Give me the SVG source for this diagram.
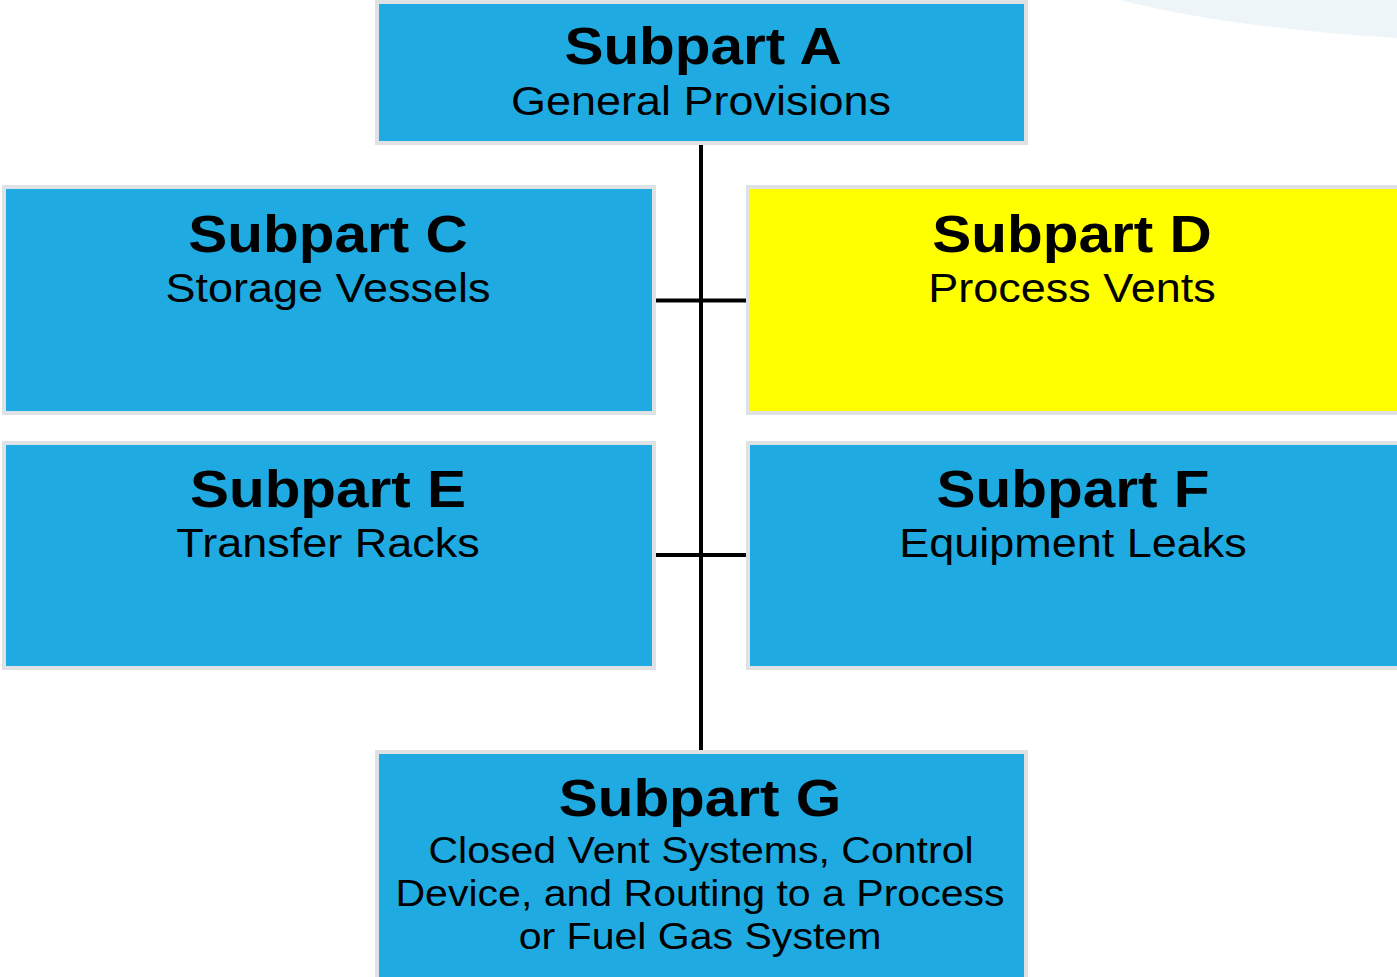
<svg xmlns="http://www.w3.org/2000/svg" width="1397" height="977" viewBox="0 0 1397 977">
  <style>
    .box { fill: #1fabe2; stroke: #dfe2e5; stroke-width: 4; }
    .hl { fill: #ffff00; }
    text { font-family: "Liberation Sans", Arial, sans-serif; fill: #000; text-anchor: middle; }
    .title { font-weight: bold; font-size: 52px; }
    .sub { font-size: 40px; }
    .sub-g { font-size: 36.5px; }
    .wire { stroke: #000; stroke-width: 4; fill: none; }
  </style>
  <rect width="1397" height="977" fill="#fff"/>
  <!-- soft background swoosh at top right -->
  <path d="M1120,0 Q1230,28 1397,38 L1397,0 Z" fill="#edf5f9"/>

  <g id="connectors">
    <line class="wire" x1="701" y1="145" x2="701" y2="750"/>
    <line class="wire" x1="656" y1="300.5" x2="746" y2="300.5"/>
    <line class="wire" x1="656" y1="555" x2="746" y2="555"/>
  </g>

  <!-- labels use a slightly widened face (horizontal scale 1.125) -->
  <g id="subpart-a">
    <rect class="box" x="377" y="2" width="649" height="141"/>
    <text class="title" transform="matrix(1.125 0 0 1 703 64)">Subpart A</text>
    <text class="sub" transform="matrix(1.125 0 0 1 701 115)">General Provisions</text>
  </g>

  <g id="subpart-c">
    <rect class="box" x="4" y="187" width="650" height="226"/>
    <text class="title" transform="matrix(1.125 0 0 1 328 252)">Subpart C</text>
    <text class="sub" transform="matrix(1.125 0 0 1 328 302)">Storage Vessels</text>
  </g>

  <g id="subpart-d">
    <rect class="box hl" x="748" y="187" width="651" height="226"/>
    <text class="title" transform="matrix(1.125 0 0 1 1072 252)">Subpart D</text>
    <text class="sub" transform="matrix(1.125 0 0 1 1072 302)">Process Vents</text>
  </g>

  <g id="subpart-e">
    <rect class="box" x="4" y="443" width="650" height="225"/>
    <text class="title" transform="matrix(1.125 0 0 1 328 507)">Subpart E</text>
    <text class="sub" transform="matrix(1.125 0 0 1 328 557)">Transfer Racks</text>
  </g>

  <g id="subpart-f">
    <rect class="box" x="748" y="443" width="651" height="225"/>
    <text class="title" transform="matrix(1.125 0 0 1 1073 507)">Subpart F</text>
    <text class="sub" transform="matrix(1.125 0 0 1 1073 557)">Equipment Leaks</text>
  </g>

  <g id="subpart-g">
    <rect class="box" x="377" y="752" width="649" height="230"/>
    <text class="title" transform="matrix(1.125 0 0 1 700 816)">Subpart G</text>
    <text class="sub-g" transform="matrix(1.125 0 0 1 701 863)">Closed Vent Systems, Control</text>
    <text class="sub-g" transform="matrix(1.125 0 0 1 700 906)">Device, and Routing to a Process</text>
    <text class="sub-g" transform="matrix(1.125 0 0 1 700 949)">or Fuel Gas System</text>
  </g>
</svg>
